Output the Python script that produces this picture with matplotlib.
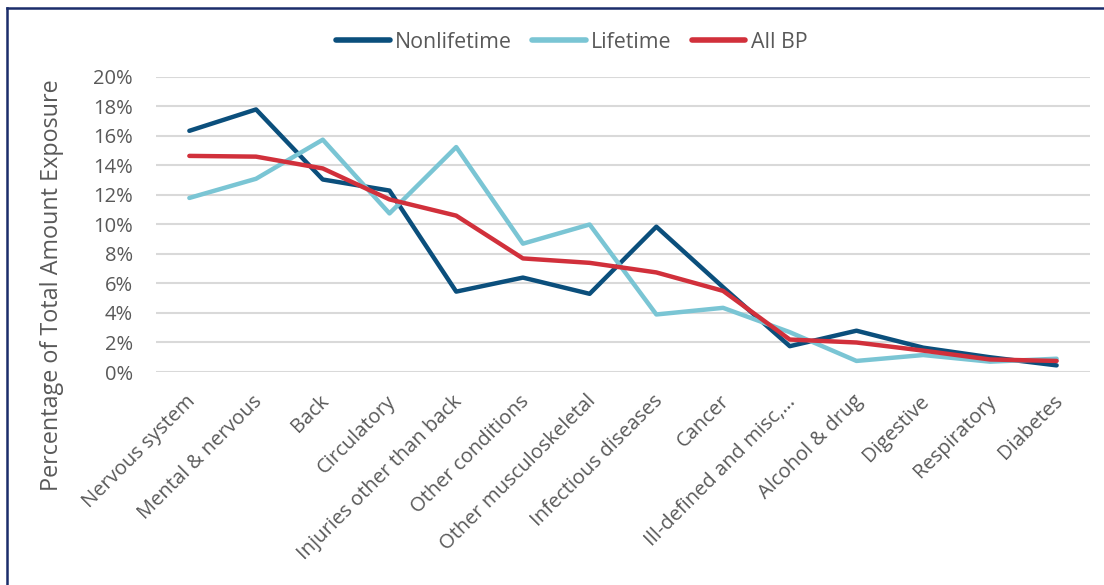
import matplotlib.pyplot as plt
from matplotlib.lines import Line2D
from matplotlib.ticker import PercentFormatter
from matplotlib.transforms import ScaledTranslation

# Datos
categorias = ['Nervous system', 'Mental & nervous', 'Back', 'Circulatory',
              'Injuries other than back', 'Other conditions',
              'Other musculoskeletal', 'Infectious diseases', 'Cancer',
              'Ill-defined and misc,…', 'Alcohol & drug', 'Digestive',
              'Respiratory', 'Diabetes']
nonlifetime = [16.35, 17.8, 13.05, 12.3, 5.45, 6.4, 5.3, 9.85, 5.75, 1.75,
               2.8, 1.65, 1.0, 0.45]
lifetime = [11.8, 13.1, 15.75, 10.75, 15.25, 8.7, 10.0, 3.9, 4.35, 2.7,
            0.75, 1.15, 0.7, 0.9]
all_bp = [14.65, 14.6, 13.8, 11.7, 10.6, 7.7, 7.4, 6.75, 5.5, 2.2,
          2.0, 1.45, 0.85, 0.75]

plt.rcParams['font.family'] = ['Open Sans', 'DejaVu Sans']
gris = '#595959'

fig = plt.figure(figsize=(11.04, 5.85), dpi=100)
ax = fig.add_axes([0.1413, 0.3641, 0.846, 0.5043])

x = range(len(categorias))
ax.plot(x, nonlifetime, color='#0B4F7C', lw=3.2, label='Nonlifetime',
        solid_capstyle='round', zorder=3)
ax.plot(x, lifetime, color='#7AC5D4', lw=3.2, label='Lifetime',
        solid_capstyle='round', zorder=3)
ax.plot(x, all_bp, color='#D1303B', lw=3.2, label='All BP',
        solid_capstyle='round', zorder=4)

ax.set_xlim(-0.5, len(categorias) - 0.5)
ax.set_ylim(0, 20)
ax.set_yticks(range(0, 21, 2))
ax.yaxis.set_major_formatter(PercentFormatter(decimals=0))
ax.grid(axis='y', color='#D9D9D9', lw=1.5)
ax.set_axisbelow(True)
for s in ax.spines.values():
    s.set_visible(False)
ax.tick_params(length=0, labelsize=14.5, labelcolor=gris)
ax.tick_params(axis='y', pad=16.5)

ax.set_xticks(list(x))
ax.set_xticklabels(categorias, rotation=45, ha='right',
                   rotation_mode='anchor', fontsize=14.5, color=gris)
ax.tick_params(axis='x', pad=14)
# pequeño corrimiento a la izquierda de las etiquetas
desp = ScaledTranslation(-4 / 100, 0, fig.dpi_scale_trans)
for lab in ax.get_xticklabels():
    lab.set_transform(lab.get_transform() + desp)

ax.set_ylabel('Percentage of Total Amount Exposure', fontsize=16.8,
              color=gris)
ax.yaxis.set_label_coords(-0.099, 0.295)

leg = ax.legend(loc='center', bbox_to_anchor=(0.518, 0.928),
                bbox_transform=fig.transFigure, ncol=3, frameon=False,
                fontsize=15.4, labelcolor=gris, handlelength=2.5,
                handletextpad=0.25, columnspacing=0.95)
for h in leg.get_lines():
    h.set_linewidth(4)

# Borde del grafico (recortado arriba e izquierda)
fig.add_artist(Line2D([0.0065, 1.0], [0.986, 0.986], color='#1B2D6B',
                      lw=1.8, transform=fig.transFigure))
fig.add_artist(Line2D([0.0065, 0.0065], [0.0, 0.986], color='#1B2D6B',
                      lw=1.8, transform=fig.transFigure))

fig.savefig('out.png', dpi=100)
